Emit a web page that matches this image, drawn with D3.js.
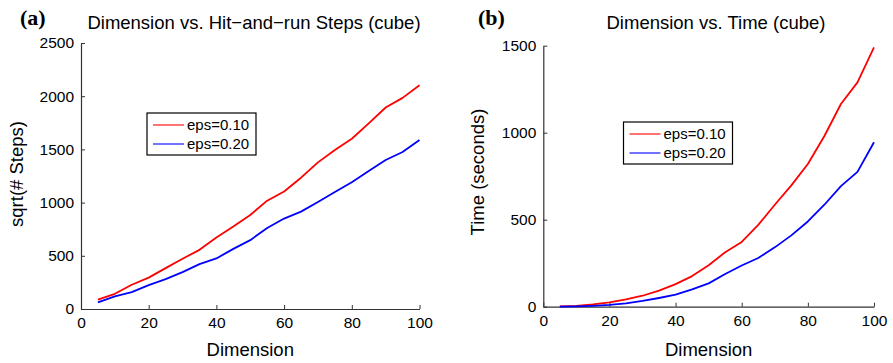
<!DOCTYPE html>
<html>
<head>
<meta charset="utf-8">
<script src="https://cdn.jsdelivr.net/npm/d3@7"></script>
<style>
  body { margin: 0; background: #fff; }
  svg text { font-family: "Liberation Sans", Arial, sans-serif; fill: #000; }
</style>
</head>
<body>
<div id="chart"></div>
<script>
// dimension values (x) shared by both panels
const dims = [5, 10, 15, 20, 25, 30, 35, 40, 45, 50, 55, 60, 65, 70, 75, 80, 85, 90, 95, 100];

// panel (a): sqrt(# steps)
const stepsEps10 = [88, 143, 228, 295, 384, 472, 556, 672, 775, 884, 1018, 1105, 1234, 1378, 1494, 1600, 1744, 1894, 1984, 2103];
const stepsEps20 = [62, 118, 159, 225, 281, 347, 422, 475, 565, 647, 762, 850, 915, 1006, 1100, 1191, 1297, 1400, 1475, 1588];

// panel (b): time in seconds
const timeEps10 = [2, 5, 13, 25, 42, 63, 92, 130, 176, 238, 313, 372, 470, 586, 697, 820, 981, 1165, 1289, 1491];
const timeEps20 = [0, 2, 5, 10, 19, 33, 50, 69, 100, 134, 188, 237, 280, 341, 410, 490, 586, 693, 775, 945];

const xTicks = [0, 20, 40, 60, 80, 100];
const yTicksA = [0, 500, 1000, 1500, 2000, 2500];
const yTicksB = [0, 500, 1000, 1500];
const legendLabels = ["eps=0.10", "eps=0.20"];
const colors = ["#ff0000", "#0000ff"];

const width = 893, height = 363;
const svg = d3.select("#chart").append("svg")
    .attr("width", width)
    .attr("height", height);

function drawPanel(cfg) {
    const x = d3.scaleLinear().domain([0, 100]).range(cfg.xRange);
    const y = d3.scaleLinear().domain(cfg.yDomain).range(cfg.yRange);

    const xAxis = svg.append("g")
        .attr("transform", `translate(0,${cfg.yRange[0]})`)
        .call(d3.axisBottom(x).tickValues(xTicks).tickFormat(d3.format("d"))
            .tickSizeInner(-4).tickSizeOuter(0).tickPadding(8));
    const yAxis = svg.append("g")
        .attr("transform", `translate(${cfg.xRange[0]},0)`)
        .call(d3.axisLeft(y).tickValues(cfg.yTicks).tickFormat(d3.format("d"))
            .tickSizeInner(-4).tickSizeOuter(0).tickPadding(7));

    [xAxis, yAxis].forEach(a => {
        a.select(".domain").attr("stroke", "#333").attr("stroke-width", 1.2);
        a.selectAll(".tick line").attr("stroke", "#333");
        a.selectAll(".tick text")
            .style("font-family", "Liberation Sans, Arial, sans-serif")
            .style("font-size", "15.5px")
            .attr("fill", "#000");
    });

    cfg.series.forEach((vals, i) => {
        const line = d3.line()
            .x((d, j) => x(dims[j]))
            .y(d => y(d));
        svg.append("path")
            .datum(vals)
            .attr("fill", "none")
            .attr("stroke", colors[i])
            .attr("stroke-width", 1.8)
            .attr("stroke-linejoin", "round")
            .attr("d", line);
    });

    // titles and labels
    svg.append("text")
        .attr("x", cfg.titleX).attr("y", 29)
        .attr("text-anchor", "middle")
        .style("font-size", "18.5px")
        .text(cfg.title);

    svg.append("text")
        .attr("x", cfg.panelX).attr("y", 25)
        .style("font-family", "Liberation Serif, Times New Roman, serif")
        .style("font-weight", "bold")
        .style("font-size", "22px")
        .text(cfg.panel);

    svg.append("text")
        .attr("x", (cfg.xRange[0] + cfg.xRange[1]) / 2).attr("y", 356)
        .attr("text-anchor", "middle")
        .style("font-size", "18.5px")
        .text("Dimension");

    svg.append("text")
        .attr("transform", `translate(${cfg.yLabelX},${cfg.yLabelY}) rotate(-90)`)
        .attr("text-anchor", "middle")
        .style("font-size", "18.5px")
        .text(cfg.yLabel);

    // legend
    const lg = svg.append("g").attr("transform", `translate(${cfg.legend[0]},${cfg.legend[1]})`);
    lg.append("rect")
        .attr("width", 109).attr("height", 42)
        .attr("fill", "#fff")
        .attr("stroke", "#000")
        .attr("stroke-width", 1.2);
    legendLabels.forEach((lab, i) => {
        const ly = 12 + i * 19;
        lg.append("line")
            .attr("x1", 6).attr("x2", 37)
            .attr("y1", ly).attr("y2", ly)
            .attr("stroke", colors[i])
            .attr("stroke-width", 1.1);
        lg.append("text")
            .attr("x", 40).attr("y", ly)
            .attr("dy", "0.36em")
            .style("font-size", "15px")
            .text(lab);
    });
}

drawPanel({
    xRange: [81, 419.5], yRange: [309, 43], yDomain: [0, 2500], yTicks: yTicksA,
    series: [stepsEps10, stepsEps20],
    title: "Dimension vs. Hit\u2212and\u2212run Steps (cube)", titleX: 254,
    panel: "(a)", panelX: 20,
    yLabel: "sqrt(# Steps)", yLabelX: 23, yLabelY: 174,
    legend: [147, 113]
});

drawPanel({
    xRange: [543.3, 874], yRange: [306.7, 45.7], yDomain: [0, 1500], yTicks: yTicksB,
    series: [timeEps10, timeEps20],
    title: "Dimension vs. Time (cube)", titleX: 716,
    panel: "(b)", panelX: 478,
    yLabel: "Time (seconds)", yLabelX: 484, yLabelY: 172,
    legend: [623.5, 122]
});
</script>
</body>
</html>
